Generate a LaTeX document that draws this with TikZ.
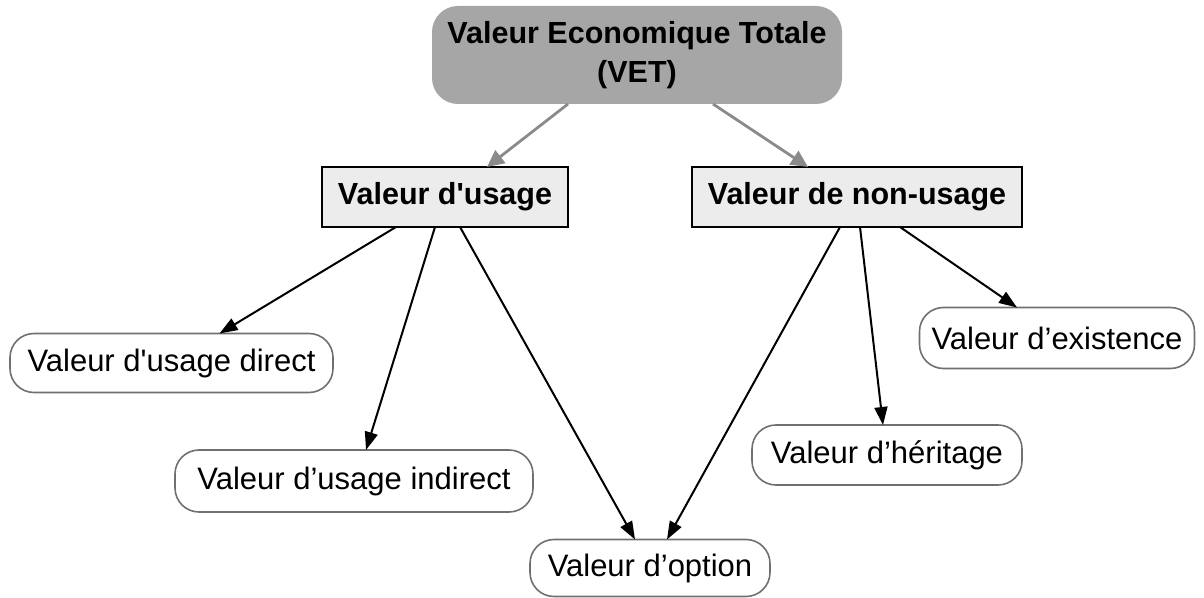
\documentclass[tikz,border=0pt]{standalone}
\usepackage{fontspec}
\setmainfont{Liberation Sans}
\usetikzlibrary{arrows.meta}

\definecolor{rootfill}{HTML}{A6A6A6}
\definecolor{groupfill}{HTML}{ECECEC}
\definecolor{leafline}{HTML}{707070}
\definecolor{rootarrow}{HTML}{8A8A8A}

\tikzset{
  rootbox/.style={fill=rootfill, draw=none, rounded corners=13pt,
    minimum width=205pt, minimum height=49pt, inner sep=0pt, outer sep=0pt,
    align=center, font=\fontsize{15.25}{19.5}\selectfont\bfseries},
  groupbox/.style={fill=groupfill, draw=black, line width=1.2pt,
    minimum height=30pt, inner sep=0pt, outer sep=0pt,
    font=\fontsize{15.25}{18}\selectfont\bfseries},
  leafbox/.style={fill=white, draw=leafline, line width=0.8pt, rounded corners=12pt,
    inner sep=0pt, outer sep=0pt, font=\fontsize{15.5}{18}\selectfont},
  rootlink/.style={draw=rootarrow, line width=1.4pt,
    -{Triangle[length=8.5pt,width=8pt]}},
  leaflink/.style={draw=black, line width=1pt,
    -{Triangle[length=9pt,width=6.5pt]}}
}

\begin{document}
\begin{tikzpicture}[x=0.5pt, y=-0.5pt]
  \useasboundingbox (0,0) rectangle (1204,598);

  % total economic value and its two branches
  \node[rootbox] (vet) at (637,55) {Valeur Economique Totale\\(VET)};
  \node[groupbox, minimum width=123pt] (usage) at (445,197) {Valeur d\textquotesingle usage};
  \node[groupbox, minimum width=165pt] (nonusage) at (857,197) {Valeur de non-usage};

  % components
  \node[leafbox, minimum width=161.5pt, minimum height=29.5pt] (direct) at (171.5,363) {Valeur d\textquotesingle usage direct};
  \node[leafbox, minimum width=179pt, minimum height=31pt] (indirect) at (354,481) {Valeur d’usage indirect};
  \node[leafbox, minimum width=120pt, minimum height=28.5pt] (option) at (650,568) {Valeur d’option};
  \node[leafbox, minimum width=135pt, minimum height=30pt] (heritage) at (887,455) {Valeur d’héritage};
  \node[leafbox, minimum width=137.5pt, minimum height=30.5pt] (existence) at (1057,338) {Valeur d’existence};

  % links from the total value
  \draw[rootlink] ([xshift=-34.5pt]vet.south) -- ([xshift=21pt]usage.north);
  \draw[rootlink] ([xshift=38pt]vet.south) -- ([xshift=-24.5pt]nonusage.north);

  % use values
  \draw[leaflink] ([xshift=-24.5pt]usage.south) -- ([xshift=24pt]direct.north);
  \draw[leaflink] ([xshift=-5pt]usage.south) -- ([xshift=6pt]indirect.north);
  \draw[leaflink] ([xshift=7.5pt]usage.south) -- ([xshift=-7.5pt]option.north);

  % non-use values
  \draw[leaflink] ([xshift=-8.5pt]nonusage.south) -- ([xshift=8.5pt]option.north);
  \draw[leaflink] ([xshift=1.5pt]nonusage.south) -- ([xshift=-2pt]heritage.north);
  \draw[leaflink] ([xshift=21.5pt]nonusage.south) -- ([xshift=-20pt]existence.north);
\end{tikzpicture}
\end{document}
